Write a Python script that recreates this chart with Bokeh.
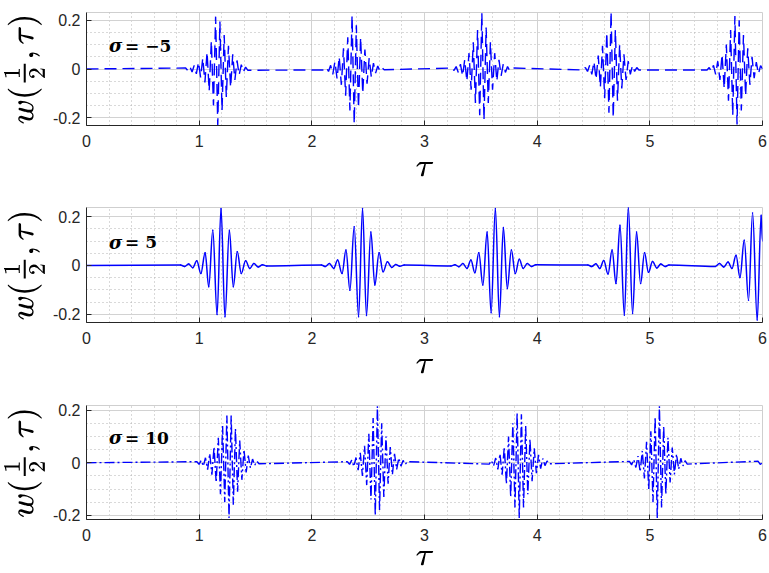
from bokeh.plotting import figure
from bokeh.models import FixedTicker, Range1d, Label, CustomJSTickFormatter
from bokeh.layouts import column
from bokeh.embed import file_html
from bokeh.resources import INLINE

# ---------------- data ----------------
X_TICKS = [0, 1, 2, 3, 4, 5, 6]
X_MINOR = [0.2, 0.4, 0.6, 0.8, 1.2, 1.4, 1.6, 1.8, 2.2, 2.4, 2.6, 2.8, 3.2, 3.4, 3.6, 3.8,
           4.2, 4.4, 4.6, 4.8, 5.2, 5.4, 5.6, 5.8]
Y_TICKS = [-0.2, 0, 0.2]
Y_MINOR = [-0.15, -0.1, -0.05, 0.05, 0.1, 0.15]

SIGMA_VALUES = ["= −5", "= 5", "= 10"]

# sigma = -5 : extrema of the oscillation (tau, w)
TAU_A = [0.0,
         0.880, 0.899, 0.918, 0.937, 0.956, 0.975, 0.994, 1.013, 1.032, 1.051, 1.070, 1.089, 1.108, 1.127, 1.146,
         1.165, 1.184, 1.203, 1.222, 1.241, 1.260, 1.279, 1.298, 1.317, 1.336, 1.355, 1.374, 1.393, 1.412, 1.431,
         2.110, 2.129, 2.148, 2.167, 2.186, 2.205, 2.224, 2.243, 2.262, 2.281, 2.300, 2.319, 2.338, 2.357, 2.376,
         2.395, 2.414, 2.433, 2.452, 2.471, 2.490, 2.509, 2.528, 2.547, 2.566, 2.585, 2.604, 2.623, 2.642,
         3.243, 3.262, 3.281, 3.300, 3.319, 3.338, 3.357, 3.376, 3.395, 3.414, 3.433, 3.452, 3.471, 3.490, 3.509,
         3.528, 3.547, 3.566, 3.585, 3.604, 3.623, 3.642, 3.661, 3.680, 3.699, 3.718, 3.737, 3.756, 3.775,
         4.409, 4.428, 4.447, 4.466, 4.485, 4.504, 4.523, 4.542, 4.561, 4.580, 4.599, 4.618, 4.637, 4.656,
         4.675, 4.694, 4.713, 4.732, 4.751, 4.770, 4.789, 4.808, 4.827, 4.846, 4.865, 4.884, 4.903,
         5.508, 5.527, 5.546, 5.565, 5.584, 5.603, 5.622, 5.641, 5.660, 5.679, 5.698, 5.717, 5.736, 5.755,
         5.774, 5.793, 5.812, 5.831, 5.850, 5.869, 5.888, 5.907, 5.926, 5.945, 5.964, 5.983, 6.000]
W_A = [0.0,
       0.004, -0.006, 0.010, -0.012, 0.015, -0.020, 0.028, -0.035, 0.045, -0.055, 0.070, -0.090, 0.115, -0.150, 0.215,
       -0.230, 0.195, -0.170, 0.140, -0.115, 0.095, -0.075, 0.060, -0.045, 0.035, -0.025, 0.018, -0.012, 0.008, -0.005,
       -0.004, 0.006, -0.010, 0.015, -0.022, 0.030, -0.040, 0.050, -0.065, 0.085, -0.110, 0.130, -0.170, 0.220, -0.225,
       0.180, -0.160, 0.130, -0.100, 0.080, -0.060, 0.045, -0.033, 0.024, -0.017, 0.012, -0.008, 0.005, -0.003,
       0.004, -0.006, 0.010, -0.014, 0.020, -0.028, 0.038, -0.050, 0.065, -0.085, 0.110, -0.140, 0.160, -0.190, 0.230,
       -0.210, 0.170, -0.140, 0.110, -0.085, 0.065, -0.050, 0.038, -0.028, 0.020, -0.014, 0.010, -0.006, 0.004,
       -0.004, 0.006, -0.010, 0.015, -0.022, 0.030, -0.042, 0.055, -0.075, 0.095, -0.120, 0.150, -0.180, 0.235,
       -0.200, 0.160, -0.130, 0.100, -0.080, 0.060, -0.045, 0.032, -0.022, 0.015, -0.010, 0.006, -0.004,
       -0.004, 0.006, -0.010, 0.015, -0.022, 0.032, -0.045, 0.060, -0.080, 0.100, -0.130, 0.160, -0.190, 0.218,
       -0.228, 0.200, -0.170, 0.140, -0.110, 0.085, -0.065, 0.050, -0.038, 0.028, -0.020, 0.014, 0.000]

# sigma = 5
TAU_B = [0.0,
         0.835, 0.871, 0.907, 0.943, 0.979, 1.015, 1.053, 1.085, 1.121, 1.159, 1.194, 1.229, 1.268, 1.303, 1.338,
         1.374, 1.412, 1.450, 1.485, 1.524, 1.562, 1.600,
         2.085, 2.120, 2.156, 2.194, 2.229, 2.268, 2.303, 2.338, 2.376, 2.415, 2.450, 2.485, 2.524, 2.559, 2.597,
         2.632, 2.671, 2.709, 2.745, 2.780, 2.820,
         3.235, 3.270, 3.305, 3.341, 3.377, 3.412, 3.447, 3.482, 3.518, 3.556, 3.591, 3.629, 3.665, 3.700, 3.735,
         3.771, 3.806, 3.841, 3.876, 3.912, 3.950, 3.988,
         4.450, 4.485, 4.521, 4.556, 4.591, 4.629, 4.665, 4.700, 4.735, 4.774, 4.809, 4.847, 4.882, 4.918, 4.953,
         4.988, 5.024, 5.062, 5.097, 5.135, 5.170,
         5.580, 5.618, 5.656, 5.694, 5.729, 5.765, 5.800, 5.838, 5.876, 5.912, 5.953, 5.988, 6.000]
W_B = [0.0,
       0.002, -0.004, 0.006, -0.009, 0.019, -0.033, 0.052, -0.087, 0.144, -0.200, 0.233, -0.210, 0.144, -0.087, 0.056,
       -0.033, 0.019, -0.012, 0.008, -0.006, 0.003, -0.002,
       0.002, -0.004, 0.008, -0.012, 0.022, -0.033, 0.063, -0.101, 0.158, -0.209, 0.233, -0.204, 0.137, -0.080, 0.052,
       -0.026, 0.015, -0.008, 0.004, -0.003, 0.002,
       -0.002, 0.003, -0.005, 0.008, -0.012, 0.022, -0.030, 0.052, -0.080, 0.137, -0.193, 0.233, -0.209, 0.155, -0.094,
       0.063, -0.033, 0.025, -0.012, 0.008, -0.004, 0.003,
       0.002, -0.004, 0.007, -0.012, 0.020, -0.035, 0.063, -0.074, 0.164, -0.203, 0.237, -0.196, 0.137, -0.074, 0.052,
       -0.028, 0.016, -0.010, 0.006, -0.004, 0.002,
       -0.004, 0.008, -0.006, 0.014, -0.012, 0.042, -0.049, 0.103, -0.142, 0.215, -0.223, 0.205, 0.100]

# sigma = 10
TAU_C = [0.0,
         0.980, 0.999, 1.018, 1.037, 1.056, 1.075, 1.094, 1.113, 1.132, 1.151, 1.170, 1.189, 1.208, 1.227, 1.246,
         1.265, 1.284, 1.303, 1.322, 1.341, 1.360, 1.379, 1.398, 1.417, 1.436, 1.455, 1.474, 1.493, 1.512, 1.531,
         2.316, 2.335, 2.354, 2.373, 2.392, 2.411, 2.430, 2.449, 2.468, 2.487, 2.506, 2.525, 2.544, 2.563, 2.582,
         2.601, 2.620, 2.639, 2.658, 2.677, 2.696, 2.715, 2.734, 2.753, 2.772, 2.791, 2.810, 2.829, 2.848,
         3.575, 3.594, 3.613, 3.632, 3.651, 3.670, 3.689, 3.708, 3.727, 3.746, 3.765, 3.784, 3.803, 3.822, 3.841,
         3.860, 3.879, 3.898, 3.917, 3.936, 3.955, 3.974, 3.993, 4.012, 4.031, 4.050, 4.069, 4.088, 4.107,
         4.819, 4.838, 4.857, 4.876, 4.895, 4.914, 4.933, 4.952, 4.971, 4.990, 5.009, 5.028, 5.047, 5.066, 5.085,
         5.104, 5.123, 5.142, 5.161, 5.180, 5.199, 5.218, 5.237, 5.256, 5.275, 5.294, 5.313, 5.332,
         5.960, 5.980, 6.000]
W_C = [0.0,
       0.004, -0.006, 0.009, -0.013, 0.019, -0.026, 0.035, -0.045, 0.060, -0.075, 0.095, -0.120, 0.140, -0.150, 0.180,
       -0.210, 0.180, -0.160, 0.130, -0.110, 0.085, -0.065, 0.050, -0.037, 0.027, -0.020, 0.014, -0.010, 0.006, -0.004,
       0.004, -0.006, 0.010, -0.014, 0.020, -0.028, 0.038, -0.050, 0.065, -0.085, 0.110, -0.140, 0.170, -0.200, 0.215,
       -0.180, 0.150, -0.130, 0.100, -0.080, 0.060, -0.045, 0.034, -0.025, 0.018, -0.013, 0.009, -0.006, 0.004,
       -0.005, 0.008, -0.012, 0.018, -0.025, 0.034, -0.045, 0.060, -0.080, 0.100, -0.130, 0.150, -0.170, 0.190, -0.210,
       0.185, -0.170, 0.140, -0.120, 0.090, -0.070, 0.055, -0.040, 0.030, -0.022, 0.016, -0.011, 0.007, -0.004,
       0.005, -0.008, 0.012, -0.018, 0.025, -0.034, 0.045, -0.060, 0.080, -0.100, 0.120, -0.150, 0.175, -0.210, 0.215,
       -0.170, 0.140, -0.120, 0.095, -0.075, 0.058, -0.044, 0.033, -0.024, 0.017, -0.012, 0.008, -0.005,
       0.006, -0.006, 0.000]

BLUE = "#0000ff"
TICK_COLOR = "#262626"


def make_panel(tau, w, sigma_value, dash, yr, frame_h, border_top, border_bottom, xlabel_standoff):
    p = figure(frame_width=676, frame_height=frame_h,
               x_range=Range1d(0, 6), y_range=Range1d(yr[0], yr[1]),
               output_backend="svg", toolbar_location=None,
               min_border_left=84, min_border_right=9,
               min_border_top=border_top, min_border_bottom=border_bottom,
               background_fill_color="white", border_fill_color="white")
    p.outline_line_color = "#cfcfcf"

    xt = FixedTicker(ticks=X_TICKS, minor_ticks=X_MINOR)
    yt = FixedTicker(ticks=Y_TICKS, minor_ticks=Y_MINOR)
    p.xaxis.ticker = xt
    p.yaxis.ticker = yt
    p.xgrid.ticker = xt
    p.ygrid.ticker = yt
    p.yaxis.formatter = CustomJSTickFormatter(
        code="return Math.abs(tick) < 1e-9 ? '0' : tick.toFixed(1);")

    for g in (p.xgrid, p.ygrid):
        g.grid_line_color = "#d2d2d2"
        g.grid_line_width = 1
        g.minor_grid_line_color = "#b3b3b3"
        g.minor_grid_line_dash = "1 3"
        g.minor_grid_line_width = 1

    for ax in (p.xaxis, p.yaxis):
        ax.axis_line_color = TICK_COLOR
        ax.major_tick_line_color = TICK_COLOR
        ax.major_tick_in = 5
        ax.major_tick_out = 0
        ax.minor_tick_in = 0
        ax.minor_tick_out = 0
        ax.major_label_text_font = "Liberation Sans"
        ax.major_label_text_font_size = "16px"
        ax.major_label_text_color = TICK_COLOR

    p.xaxis.major_label_standoff = 9
    p.yaxis.major_label_standoff = 6
    p.xaxis.axis_label = r"$$\tau$$"
    p.xaxis.axis_label_text_font_size = "28px"
    p.xaxis.axis_label_standoff = xlabel_standoff
    p.xaxis.axis_label_text_color = "black"
    p.yaxis.axis_label = r"$$w(\tfrac{1}{2},\tau)$$"
    p.yaxis.axis_label_text_font_size = "28px"
    p.yaxis.axis_label_standoff = 5
    p.yaxis.axis_label_text_color = "black"

    if dash is None:
        # smooth curve through the read extrema: cubic Bezier pieces with
        # horizontal tangents at every extremum
        k = 0.36
        x0 = tau[:-1]
        x1 = tau[1:]
        y0 = w[:-1]
        y1 = w[1:]
        cx0 = [a + k * (b - a) for a, b in zip(x0, x1)]
        cx1 = [b - k * (b - a) for a, b in zip(x0, x1)]
        p.bezier(x0=x0, y0=y0, x1=x1, y1=y1, cx0=cx0, cy0=y0, cx1=cx1, cy1=y1,
                 line_color=BLUE, line_width=1.5, line_cap="round")
    else:
        p.line(tau, w, line_color=BLUE, line_width=1.4, line_dash=dash)

    p.add_layout(Label(x=0.2, y=0.095, text="σ", text_baseline="middle",
                       text_align="left", text_font="DejaVu Serif",
                       text_font_style="bold italic", text_font_size="18px", text_color="black"))
    p.add_layout(Label(x=0.2, y=0.095, x_offset=16, text=sigma_value, text_baseline="middle",
                       text_align="left", text_font="DejaVu Serif",
                       text_font_style="bold", text_font_size="17px", text_color="black"))
    return p


p1 = make_panel(TAU_A, W_A, SIGMA_VALUES[0], "12 6", (-0.232, 0.232), 113, 12, 70, 12)
p2 = make_panel(TAU_B, W_B, SIGMA_VALUES[1], None, (-0.233, 0.237), 115, 12, 71, 12)
p3 = make_panel(TAU_C, W_C, SIGMA_VALUES[2], "10 3 2 3", (-0.216, 0.218), 114, 12, 54, 7)

layout = column(p1, p2, p3, spacing=0)

open("out.html", "w").write(file_html(layout, INLINE))
